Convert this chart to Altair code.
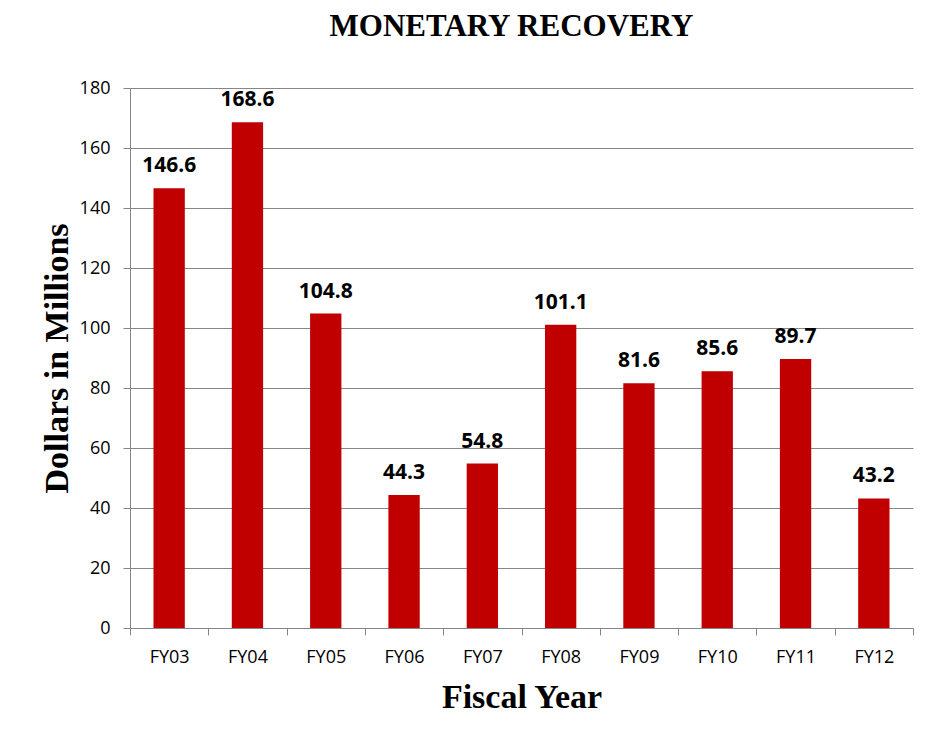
import altair as alt
import pandas as pd

years = ["FY03", "FY04", "FY05", "FY06", "FY07", "FY08", "FY09", "FY10", "FY11", "FY12"]
values = [146.6, 168.6, 104.8, 44.3, 54.8, 101.1, 81.6, 85.6, 89.7, 43.2]
labels = ["146.6", "168.6", "104.8", "44.3", "54.8", "101.1", "81.6", "85.6", "89.7", "43.2"]

df = pd.DataFrame({"year": years, "value": values, "label": labels})

x = alt.X("year:N", sort=years, title="Fiscal Year",
          scale=alt.Scale(paddingInner=0, paddingOuter=0),
          axis=alt.Axis(labelAngle=0, labelFont="Open Sans", labelFontSize=18, labelColor="#000000",
                        labelPadding=13, tickBand="extent", tickSize=7, tickColor="#868686",
                        domainColor="#868686", titleFont="Liberation Serif", titleFontSize=34,
                        titleFontWeight="bold", titleColor="#000000", titlePadding=14, grid=False))
y = alt.Y("value:Q", title="Dollars in Millions",
          scale=alt.Scale(domain=[0, 180], nice=False),
          axis=alt.Axis(values=list(range(0, 181, 20)), labelFont="Open Sans", labelFontSize=18,
                        labelColor="#000000", labelPadding=13, tickSize=7, tickColor="#868686",
                        domainColor="#868686", gridColor="#868686", gridWidth=1,
                        titleFont="Liberation Serif", titleFontSize=34, titleFontWeight="bold",
                        titleColor="#000000", titlePadding=5))

bars = alt.Chart(df).mark_bar(color="#C00000", width=alt.RelativeBandSize(0.4)).encode(x=x, y=y)
text = alt.Chart(df).mark_text(dy=-16, baseline="alphabetic", font="Open Sans", fontSize=21,
                               fontWeight="bold", color="#000000").encode(x=x, y=y, text="label:N")

chart = (bars + text).properties(
    width=783, height=540,
    title=alt.TitleParams("MONETARY RECOVERY", font="Liberation Serif", fontSize=31,
                          fontWeight="bold", color="#000000", offset=36, dx=-10),
    autosize=alt.AutoSizeParams(type="none"),
    padding={"left": 122, "top": 80, "right": 17, "bottom": 110},
).configure_view(stroke=None).configure_axis(labelFlush=False)

chart.save("out.html", embed_options={"renderer": "svg", "actions": False})
